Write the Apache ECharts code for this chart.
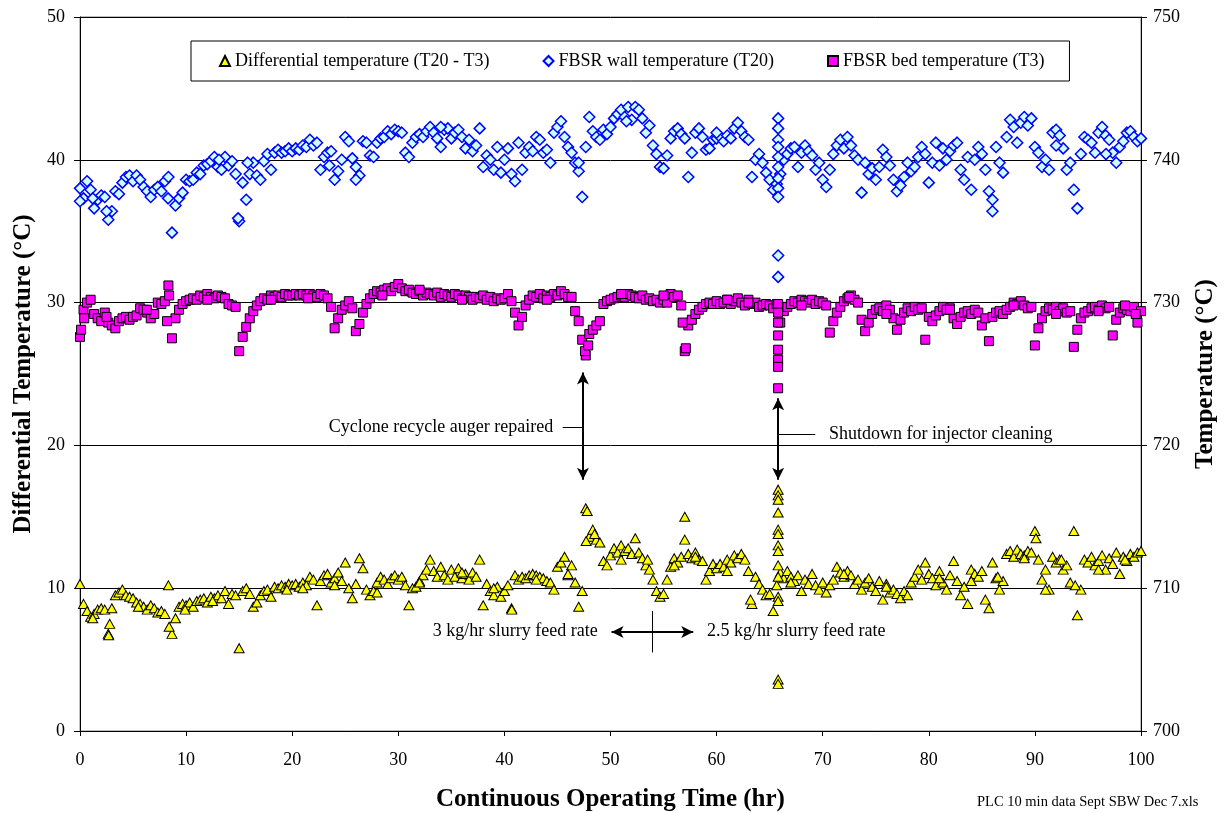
<!DOCTYPE html>
<html>
<head>
<meta charset="utf-8">
<title>FBSR temperatures</title>
<script src="https://cdn.jsdelivr.net/npm/echarts@6/dist/echarts.min.js"></script>
<style>
  html, body { margin: 0; padding: 0; background: #fff; }
  #chart { width: 1229px; height: 813px; }
</style>
</head>
<body>
<div id="chart"></div>
<script>
// readings every 20 min, 0..100 hr (15 values per 5 hr row)
const stepHr = 1 / 3;

// FBSR wall temperature T20 (deg C, right axis)
const wallTemp = [
  738.0, 737.3, 738.5, 737.9, 736.6, 737.2, 737.5, 737.4, 735.8, 736.4, 737.8, 737.6, 738.4, 738.8, 738.9,
  738.5, 738.9, 738.6, 738.1, 737.8, 737.4, 737.9, 738.1, 737.8, 738.5, 738.8, 734.9, 736.8, 737.3, 737.7,
  738.6, 738.5, 738.6, 739.1, 739.0, 739.6, 739.7, 739.9, 740.2, 739.5, 739.3, 740.2, 739.6, 739.9, 739.0,
  735.7, 738.4, 737.2, 739.0, 739.8, 738.9, 738.6, 739.9, 740.4, 739.3, 740.5, 740.7, 740.5, 740.6, 740.8,
  740.6, 740.8, 740.7, 741.0, 740.9, 741.4, 741.0, 741.2, 739.3, 740.2, 740.5, 740.6, 738.6, 739.2, 740.0,
  741.6, 741.3, 740.1, 739.5, 738.9, 741.3, 741.2, 740.3, 740.2, 741.2, 741.5, 741.6, 742.0, 741.8, 742.1,
  742.0, 741.9, 740.5, 740.2, 741.2, 741.6, 741.8, 741.6, 742.0, 742.3, 741.9, 741.5, 740.9, 742.1, 742.2,
  741.5, 741.9, 742.1, 741.6, 740.8, 741.4, 740.6, 741.0, 742.2, 739.5, 740.3, 740.0, 739.3, 740.9, 739.1,
  740.0, 740.8, 739.0, 738.5, 741.2, 739.3, 740.5, 740.9, 740.6, 741.6, 741.4, 740.5, 740.7, 739.8, 741.9,
  742.3, 742.7, 741.6, 740.9, 740.5, 739.8, 739.2, 737.4, 740.9, 743.0, 742.0, 741.6, 741.4, 742.1, 741.8,
  742.3, 742.9, 743.2, 743.5, 743.0, 743.7, 742.8, 743.7, 743.5, 742.9, 741.9, 742.4, 741.0, 740.4, 739.5,
  739.4, 740.3, 741.5, 742.0, 742.2, 741.8, 741.5, 738.8, 740.5, 741.9, 742.2, 741.6, 740.7, 740.8, 741.4,
  741.5, 741.6, 741.3, 741.7, 741.5, 742.2, 742.6, 742.0, 741.6, 741.4, 738.8, 740.0, 740.4, 739.8, 739.1,
  738.6, 737.9, 738.3, 739.0, 740.0, 740.4, 740.8, 740.9, 739.5, 740.5, 741.0, 740.6, 740.3, 739.3, 739.8,
  738.6, 738.1, 739.3, 740.4, 741.0, 741.4, 740.8, 741.6, 741.0, 740.3, 740.0, 737.7, 739.8, 739.0, 739.4,
  738.6, 739.5, 740.7, 740.2, 739.6, 738.6, 737.8, 738.2, 738.8, 739.8, 739.2, 739.5, 740.2, 740.9, 740.4,
  738.4, 739.8, 741.2, 739.6, 740.8, 740.0, 740.6, 741.0, 741.2, 739.3, 738.6, 740.2, 737.9, 740.0, 740.9,
  740.4, 739.3, 737.8, 736.4, 740.9, 739.8, 739.1, 741.6, 742.8, 742.3, 741.2, 742.6, 743.0, 742.4, 742.9,
  740.9, 740.5, 739.5, 740.0, 739.3, 741.9, 742.1, 741.7, 740.8, 739.3, 739.8, 737.9, 736.6, 740.4, 741.6,
  741.4, 741.2, 740.5, 741.9, 742.3, 741.7, 741.4, 740.5, 739.8, 740.9, 741.3, 741.9, 742.0, 741.6, 741.3,
  741.5
];
// extra wall readings [hr, deg C] incl. the shutdown at ~66 hr
const wallExtra = [
  [0, 737.1], [1.2, 737.3], [2.5, 736.4], [8.3, 737.3], [13.1, 740.0], [14.9, 735.9], [15.8, 739.8],
  [23.5, 739.6], [26.0, 738.6], [34.0, 742.3], [47.0, 739.8], [51.5, 742.7], [60.0, 741.9],
  [86.0, 737.2], [92.0, 741.0], [96.7, 740.4],
  [65.8, 742.9], [65.8, 742.2], [65.8, 741.4], [65.8, 740.9], [65.8, 740.2], [65.8, 739.5],
  [65.8, 738.7], [65.8, 738.0], [65.8, 737.4], [65.8, 733.3], [65.8, 731.8]
];

// FBSR bed temperature T3 (deg C, right axis)
const bedTemp = [
  727.6, 729.5, 730.0, 730.2, 729.2, 728.9, 728.7, 729.3, 728.6, 728.4, 728.2, 728.7, 728.9, 729.0, 728.8,
  729.0, 729.1, 729.6, 729.5, 729.3, 728.9, 729.2, 730.0, 729.9, 730.1, 731.2, 727.5, 728.9, 729.5, 729.9,
  730.1, 730.2, 730.3, 730.2, 730.5, 730.4, 730.6, 730.4, 730.3, 730.5, 730.4, 730.3, 729.9, 729.8, 729.7,
  726.6, 727.6, 728.3, 728.9, 729.4, 729.8, 730.1, 730.3, 730.2, 730.5, 730.4, 730.5, 730.4, 730.6, 730.5,
  730.5, 730.6, 730.5, 730.6, 730.5, 730.6, 730.5, 730.4, 730.6, 730.5, 730.3, 729.7, 728.2, 728.9, 729.5,
  729.8, 730.1, 729.6, 728.0, 728.5, 729.3, 729.9, 730.3, 730.6, 730.8, 730.7, 730.9, 731.0, 730.8, 731.1,
  731.3, 731.0, 730.8, 730.9, 730.7, 730.6, 730.8, 730.5, 730.7, 730.6, 730.5, 730.7, 730.4, 730.6, 730.5,
  730.4, 730.6, 730.5, 730.3, 730.5, 730.4, 730.2, 730.4, 730.3, 730.5, 730.2, 730.4, 730.1, 730.3, 730.2,
  730.3, 730.6, 730.1, 729.3, 728.4, 729.0, 729.8, 730.2, 730.5, 730.4, 730.6, 730.3, 730.5, 730.4, 730.6,
  730.5, 730.8, 730.6, 730.4, 730.4, 729.4, 728.7, 727.4, 726.3, 727.8, 728.1, 728.4, 728.7, 729.9, 730.1,
  730.2, 730.3, 730.4, 730.5, 730.4, 730.6, 730.5, 730.4, 730.3, 730.5, 730.2, 730.3, 730.1, 730.2, 730.0,
  730.2, 730.0, 730.6, 730.4, 730.5, 729.8, 726.6, 728.4, 728.8, 729.2, 729.5, 729.7, 729.9, 730.0, 729.9,
  730.1, 729.9, 730.0, 730.2, 729.9, 730.1, 730.3, 730.0, 729.8, 730.2, 729.9, 730.0, 729.7, 729.8, 729.9,
  729.8, 729.6, 729.9, 728.6, 729.4, 729.7, 729.9, 730.1, 730.0, 730.2, 730.1, 730.0, 730.2, 729.9, 730.1,
  730.0, 729.8, 727.9, 728.7, 729.3, 729.7, 730.1, 730.3, 730.5, 730.2, 730.0, 728.8, 728.0, 728.6, 729.2,
  729.5, 729.6, 729.4, 729.8, 729.5, 728.9, 728.1, 728.8, 729.3, 729.6, 729.4, 729.7, 729.5, 729.6, 727.4,
  729.0, 728.7, 729.1, 729.4, 729.7, 729.5, 729.6, 728.9, 728.5, 729.0, 729.3, 729.4, 729.2, 729.5, 729.3,
  728.4, 728.9, 727.3, 729.0, 729.3, 729.4, 729.2, 729.5, 729.7, 730.0, 729.9, 730.1, 729.8, 729.6, 729.7,
  727.0, 728.2, 728.9, 729.4, 729.6, 729.5, 729.7, 729.4, 729.6, 729.3, 729.4, 726.9, 728.1, 728.9, 729.3,
  729.4, 729.6, 729.7, 729.5, 729.8, 729.6, 729.7, 727.7, 728.8, 729.3, 729.6, 729.5, 729.4, 729.7, 728.6,
  729.4
];
const bedExtra = [
  [0.1, 728.1], [0.4, 728.9], [2.5, 729.0], [6.3, 729.5], [8.2, 728.7], [8.4, 730.5], [12.0, 730.2],
  [18.0, 730.2], [21.5, 730.3], [28.5, 730.5], [32.0, 730.9], [36.0, 730.2], [44.0, 730.2],
  [47.6, 726.6], [47.9, 727.0], [51.0, 730.6], [55.0, 730.5], [56.8, 728.6], [57.1, 726.8],
  [61.0, 730.2], [63.0, 730.0], [68.0, 729.8], [72.5, 730.4], [76.0, 729.2], [82.0, 729.5],
  [88.0, 729.8], [92.0, 729.2], [96.0, 729.4], [98.5, 729.8], [99.5, 729.2],
  [65.8, 729.9], [65.8, 729.3], [65.8, 728.6], [65.8, 727.7], [65.8, 726.7], [65.8, 726.0],
  [65.8, 725.5], [65.8, 724.0]
];

// differential temperature T20 - T3 (deg C, left axis)
const diffTemp = [
  10.3, 8.9, 8.4, 8.0, 8.2, 8.5, 8.6, 8.5, 6.8, 8.6, 9.5, 9.7, 9.9, 9.5, 9.4,
  9.3, 9.0, 8.9, 8.7, 8.5, 8.8, 8.6, 8.3, 8.4, 8.2, 10.2, 6.8, 7.9, 8.7, 8.9,
  8.8, 9.0, 8.7, 9.1, 9.2, 9.3, 9.0, 9.4, 9.3, 9.5, 9.3, 9.8, 8.9, 9.6, 9.5,
  5.8, 9.8, 10.0, 9.6, 8.7, 9.0, 9.5, 9.8, 9.9, 9.4, 10.1, 10.0, 10.2, 10.1, 10.3,
  10.2, 10.3, 10.1, 10.4, 10.2, 10.8, 10.6, 8.8, 10.5, 10.9, 11.0, 10.4, 10.7, 11.1, 10.5,
  11.8, 10.0, 9.3, 10.3, 12.1, 11.4, 9.9, 9.5, 9.8, 10.4, 10.8, 10.6, 10.3, 10.7, 10.9,
  10.6, 10.8, 10.2, 8.8, 10.0, 10.1, 10.5, 10.9, 11.3, 12.0, 11.2, 10.8, 11.5, 10.9, 10.6,
  11.3, 10.8, 11.4, 10.7, 11.0, 10.6, 11.1, 10.8, 12.0, 8.8, 10.3, 9.8, 9.5, 10.1, 9.4,
  9.8, 10.2, 8.6, 10.9, 10.6, 10.8, 10.7, 10.9, 11.0, 10.9, 10.8, 10.7, 10.5, 10.4, 9.9,
  11.5, 11.8, 12.2, 10.9, 11.6, 10.4, 8.7, 9.8, 15.6, 13.6, 14.1, 13.4, 13.2, 11.9, 11.6,
  12.3, 12.8, 12.5, 13.0, 12.6, 12.8, 12.4, 13.5, 12.5, 12.1, 11.6, 11.3, 10.6, 9.8, 9.4,
  9.6, 10.6, 11.5, 12.1, 11.8, 12.2, 15.0, 12.4, 12.1, 12.5, 12.0, 11.9, 10.6, 11.2, 11.7,
  11.4, 11.7, 11.5, 12.0, 11.8, 12.3, 12.1, 12.4, 12.0, 11.2, 8.9, 10.8, 10.3, 9.9, 9.5,
  9.6, 8.4, 10.2, 11.1, 10.7, 11.2, 10.8, 10.5, 10.9, 9.8, 10.6, 10.3, 11.0, 10.2, 9.9,
  10.4, 9.7, 10.2, 10.6, 11.5, 11.1, 10.8, 11.2, 10.9, 10.3, 10.6, 9.9, 10.4, 10.7, 10.1,
  9.8, 10.5, 9.2, 10.3, 9.7, 9.9, 9.6, 9.3, 9.8, 9.5, 10.4, 10.8, 11.3, 10.6, 11.8,
  11.0, 10.7, 10.2, 11.2, 10.4, 9.9, 10.9, 11.9, 10.5, 9.5, 10.1, 8.9, 11.3, 11.0, 10.8,
  11.2, 9.2, 8.6, 11.8, 10.7, 9.9, 10.5, 12.4, 12.6, 12.2, 12.7, 12.4, 12.3, 12.6, 12.5,
  14.0, 12.0, 10.6, 11.3, 9.9, 12.2, 11.8, 12.0, 11.3, 11.6, 10.4, 14.0, 8.1, 9.9, 12.0,
  11.8, 12.2, 11.6, 11.9, 12.3, 11.3, 12.1, 11.7, 12.5, 11.0, 12.2, 11.9, 12.4, 12.2, 12.5,
  12.6
];
const diffExtra = [
  [1.2, 7.9], [2.7, 6.7], [2.8, 7.5], [5.5, 8.7], [8.4, 7.3], [9.9, 8.5], [12.5, 9.1], [19.5, 9.9],
  [21.0, 10.0], [24.0, 10.2], [28.0, 9.7], [32.0, 10.4], [36.0, 11.1], [39.0, 10.0], [40.7, 8.5],
  [43.0, 10.6], [46.0, 11.0], [47.7, 13.3], [47.8, 15.4], [48.5, 13.8], [51.0, 12.0], [53.5, 12.0],
  [56.0, 11.6], [57.0, 13.4], [58.0, 12.2], [61.0, 11.2], [63.2, 9.2], [67.0, 10.4], [72.0, 11.0],
  [76.0, 10.1], [81.0, 10.7], [84.0, 10.5], [86.5, 10.8], [89.0, 12.1], [90.1, 13.5], [91.0, 9.9],
  [92.5, 12.0], [93.8, 10.2], [96.0, 11.3], [98.5, 12.0],
  [65.8, 16.9], [65.8, 16.5], [65.8, 16.2], [65.8, 15.3], [65.8, 14.1], [65.8, 13.8], [65.8, 13.0],
  [65.8, 12.6], [65.8, 11.6], [65.8, 10.8], [65.8, 9.4], [65.8, 9.1], [65.8, 3.6], [65.8, 3.3]
];

const seriesNames = ['Differential temperature (T20 - T3)', 'FBSR wall temperature (T20)', 'FBSR bed temperature (T3)'];

// annotations in data coords (hr, left axis deg C)
const notes = [
  { text: 'Cyclone recycle auger repaired', t: 44.6, v: 21.3, align: 'right' },
  { text: 'Shutdown for injector cleaning', t: 70.6, v: 20.8, align: 'left' },
  { text: '3 kg/hr slurry feed rate', t: 48.8, v: 6.95, align: 'right' },
  { text: '2.5 kg/hr slurry feed rate', t: 59.1, v: 6.95, align: 'left' }
];

const serif = '"Liberation Serif", "Times New Roman", serif';

function withTimes(vals) {
  return vals.map((v, i) => [Math.round(i * stepHr * 1000) / 1000, v]);
}

const axisText = { fontFamily: serif, fontSize: 18, color: '#000' };
const titleText = { fontFamily: serif, fontSize: 25, fontWeight: 'bold', color: '#000' };
const blackLine = { lineStyle: { color: '#000', width: 1 } };

const option = {
  animation: false,
  textStyle: { fontFamily: serif },
  grid: {
    left: 80, right: 88, top: 17, bottom: 82,
    outerBoundsMode: 'none',
    show: true, borderColor: '#808080', borderWidth: 1
  },
  legend: {
    left: 191, top: 41,
    padding: [11, 25, 11, 28],
    itemGap: 53, itemWidth: 10, itemHeight: 10,
    borderColor: '#000', borderWidth: 1,
    textStyle: { fontFamily: serif, fontSize: 18, color: '#000' },
    data: [
      { name: seriesNames[0], icon: 'triangle' },
      { name: seriesNames[1], icon: 'diamond' },
      { name: seriesNames[2], icon: 'rect' }
    ]
  },
  xAxis: {
    type: 'value', min: 0, max: 100, interval: 10,
    name: 'Continuous Operating Time (hr)', nameLocation: 'middle', nameGap: 56,
    nameTextStyle: titleText,
    axisLine: blackLine,
    axisTick: { length: 5, lineStyle: { color: '#000' } },
    axisLabel: Object.assign({ margin: 20 }, axisText),
    splitLine: { show: false }
  },
  yAxis: [
    {
      type: 'value', min: 0, max: 50, interval: 10, position: 'left',
      name: 'Differential Temperature (°C)', nameLocation: 'middle', nameGap: 40, nameRotate: 90,
      nameTextStyle: titleText,
      axisLine: { show: true, lineStyle: { color: '#000' } },
      axisTick: { show: true, length: 6, lineStyle: { color: '#000' } },
      axisLabel: Object.assign({ margin: 15 }, axisText),
      splitLine: { show: true, lineStyle: { color: '#000', width: 1 } }
    },
    {
      type: 'value', min: 700, max: 750, interval: 10, position: 'right',
      name: 'Temperature (°C)', nameLocation: 'middle', nameGap: 52, nameRotate: 90,
      nameTextStyle: titleText,
      axisLine: { show: true, lineStyle: { color: '#000' } },
      axisTick: { show: true, length: 6, lineStyle: { color: '#000' } },
      axisLabel: Object.assign({ margin: 12 }, axisText),
      splitLine: { show: false }
    }
  ],
  series: [
    {
      name: seriesNames[0], type: 'scatter', yAxisIndex: 0,
      symbol: 'triangle', symbolSize: [10, 9],
      itemStyle: { color: '#ffff00', borderColor: '#000', borderWidth: 1, opacity: 1 },
      data: withTimes(diffTemp).concat(diffExtra),
      markLine: {
        silent: true, animation: false,
        symbol: ['arrow', 'arrow'], symbolSize: [9, 12],
        label: { show: false },
        lineStyle: { color: '#000', width: 2, type: 'solid' },
        emphasis: { disabled: true },
        data: [
          [{ coord: [47.4, 25.1] }, { coord: [47.4, 17.6] }],
          [{ coord: [65.8, 23.3] }, { coord: [65.8, 17.6] }],
          [{ coord: [50.1, 6.93] }, { coord: [57.8, 6.93] }],
          [{ coord: [45.5, 21.3], symbol: 'none', lineStyle: { width: 1 } }, { coord: [47.4, 21.3], symbol: 'none' }],
          [{ coord: [65.8, 20.8], symbol: 'none', lineStyle: { width: 1 } }, { coord: [69.3, 20.8], symbol: 'none' }],
          [{ coord: [53.9, 8.4], symbol: 'none', lineStyle: { width: 1 } }, { coord: [53.9, 5.5], symbol: 'none' }]
        ]
      }
    },
    {
      name: seriesNames[1], type: 'scatter', yAxisIndex: 1,
      symbol: 'diamond', symbolSize: 11,
      itemStyle: { color: '#ccffff', borderColor: '#0000ff', borderWidth: 1.5, opacity: 1 },
      data: withTimes(wallTemp).concat(wallExtra)
    },
    {
      name: seriesNames[2], type: 'scatter', yAxisIndex: 1,
      symbol: 'rect', symbolSize: 9,
      itemStyle: { color: '#ff00ff', borderColor: '#000', borderWidth: 1, opacity: 1 },
      data: withTimes(bedTemp).concat(bedExtra)
    }
  ]
};

const chart = echarts.init(document.getElementById('chart'));
chart.setOption(option);

// place annotation texts through the chart's own scales
const noteGraphics = notes.map(n => {
  const p = chart.convertToPixel({ xAxisIndex: 0, yAxisIndex: 0 }, [n.t, n.v]);
  return {
    type: 'text', x: p[0], y: p[1], silent: true,
    style: { text: n.text, font: '18px ' + serif, fill: '#000', align: n.align, verticalAlign: 'middle' }
  };
});
noteGraphics.push({
  type: 'text', left: 977, top: 795, silent: true,
  style: { text: 'PLC 10 min data Sept SBW Dec 7.xls', font: '14.5px ' + serif, fill: '#000' }
});
chart.setOption({ graphic: noteGraphics });
</script>
</body>
</html>
